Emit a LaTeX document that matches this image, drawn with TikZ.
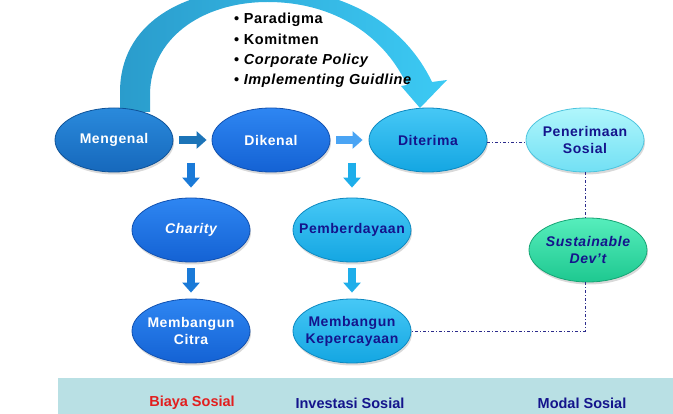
\documentclass[tikz,border=0pt]{standalone}
\usepackage{fontspec}
\setmainfont{Liberation Sans}
\newfontfamily\spfont[LetterSpace=4]{Liberation Sans}
\usetikzlibrary{arrows.meta,shadows,calc,shapes.geometric}
\definecolor{navy}{HTML}{14148C}
\definecolor{dotblue}{HTML}{2C2C8C}
\definecolor{bandcol}{HTML}{B9E0E4}
\definecolor{biayared}{HTML}{E21E1E}
\definecolor{arcL}{HTML}{2A9CCC}
\definecolor{arcR}{HTML}{3CCAF4}
\definecolor{dkT}{HTML}{2A8ADC}\definecolor{dkB}{HTML}{1668BC}\definecolor{dkD}{HTML}{0E5298}
\definecolor{blT}{HTML}{2E86F2}\definecolor{blB}{HTML}{1462D4}\definecolor{blD}{HTML}{1050B0}
\definecolor{skT}{HTML}{46C8F6}\definecolor{skB}{HTML}{14A6E2}\definecolor{skD}{HTML}{0C88C0}
\definecolor{cyT}{HTML}{B0F6FC}\definecolor{cyB}{HTML}{72E0F4}\definecolor{cyD}{HTML}{4CC4DE}
\definecolor{grT}{HTML}{56EEBC}\definecolor{grB}{HTML}{1EC890}\definecolor{grD}{HTML}{16A474}
\definecolor{arA}{HTML}{1C74B8}\definecolor{arB}{HTML}{4AA4F4}
\definecolor{arC}{HTML}{1A7AD8}\definecolor{arD}{HTML}{1EAEEA}
\begin{document}
\begin{tikzpicture}[x=1pt,y=-1pt,
  oval/.style={ellipse, minimum width=118pt, minimum height=64pt, inner xsep=-12pt, inner ysep=0pt,
    align=center, line width=0.8pt,
    font=\spfont\bfseries\fontsize{14}{17}\selectfont,
    drop shadow={shadow xshift=1pt,shadow yshift=-2.5pt,opacity=0.3}},
  darkb/.style={oval, top color=dkT, bottom color=dkB, draw=dkD, text=white},
  blueb/.style={oval, top color=blT, bottom color=blB, draw=blD, text=white},
  skyb/.style={oval, top color=skT, bottom color=skB, draw=skD, text=navy},
  cyanb/.style={oval, top color=cyT, bottom color=cyB, draw=cyD, text=navy},
  greenb/.style={oval, top color=grT, bottom color=grB, draw=grD, text=navy},
  blockarrow/.style={line width=8pt, -{Triangle[width=17pt,length=10pt]}},
  dotline/.style={dotblue, line width=0.8pt, dash pattern=on 3pt off 2pt on 1pt off 2pt},
  bullet/.style={anchor=base west, inner sep=0pt, font=\spfont\bfseries\fontsize{14.5}{16}\selectfont},
  foot/.style={font=\bfseries\fontsize{14.5}{16}\selectfont, inner sep=0pt}
]
\useasboundingbox (0,0) rectangle (673,414);
% big curved arrow
\shade[left color=arcL, right color=arcR]
  (120,112) -- (120,92) .. controls (120,25) and (180,-12) .. (265,-12)
  .. controls (345,-12) and (405,25) .. (432,82) -- (447,80) -- (420,108)
  -- (401,86) -- (407,85) .. controls (382,32) and (330,2) .. (268,2)
  .. controls (200,2) and (150,40) .. (150,95) -- (150,112) -- cycle;
% bullets
\node[bullet] (b1) at (234,24) {• Paradigma};
\node[bullet] (b2) at (234,45) {• Komitmen};
\node[bullet] (b3) at (234,65) {• \itshape Corporate Policy};
\node[bullet] (b4) at (234,85) {• \itshape Implementing Guidline};
% ovals
\node[darkb]  (men)  at (114,140) {Mengenal};
\node[blueb]  (dik)  at (271,140) {Dikenal};
\node[skyb]   (dit)  at (428,140) {Diterima};
\node[cyanb]  (pen)  at (585,140) {Penerimaan\\Sosial};
\node[greenb] (sus)  at (588,250) {\itshape Sustainable\\\itshape Dev’t};
\node[blueb]  (cha)  at (191,230) {\itshape Charity};
\node[blueb]  (cit)  at (191,331) {Membangun\\Citra};
\node[skyb]   (pem)  at (352,230) {Pemberdayaan};
\node[skyb]   (kep)  at (352,331) {Membangun\\Kepercayaan};
% block arrows
\draw[blockarrow, arA] ([xshift=6pt]men.east) -- ([xshift=-5pt]dik.west);
\draw[blockarrow, arB] ([xshift=6pt]dik.east) -- ([xshift=-6pt]dit.west);
\draw[blockarrow, arC] ([yshift=35pt]cha.north) -- ([yshift=10pt]cha.north);
\draw[blockarrow, arC] ([yshift=-6pt]cha.south) -- ([yshift=6pt]cit.north);
\draw[blockarrow, arD] ([yshift=35pt]pem.north) -- ([yshift=10pt]pem.north);
\draw[blockarrow, arD] ([yshift=-6pt]pem.south) -- ([yshift=6pt]kep.north);
% dotted connectors
\draw[dotline] ([yshift=-2pt]dit.east) -- ([yshift=-2pt]pen.west);
\draw[dotline] (pen.south) -- (pen.south |- sus.north);
\coordinate (corner) at (pen.south |- kep.east);
\draw[dotline] (pen.south |- sus.south) -- (corner) -- (kep.east);
% footer band
\fill[bandcol] (58,378) rectangle (673,414);
\node[foot, text=biayared] (f1) at (192,403) {Biaya Sosial};
\node[foot, text=navy] (f2) at (350,403) {Investasi Sosial};
\node[foot, text=navy] (f3) at (582,403) {Modal Sosial};
\end{tikzpicture}
\end{document}
